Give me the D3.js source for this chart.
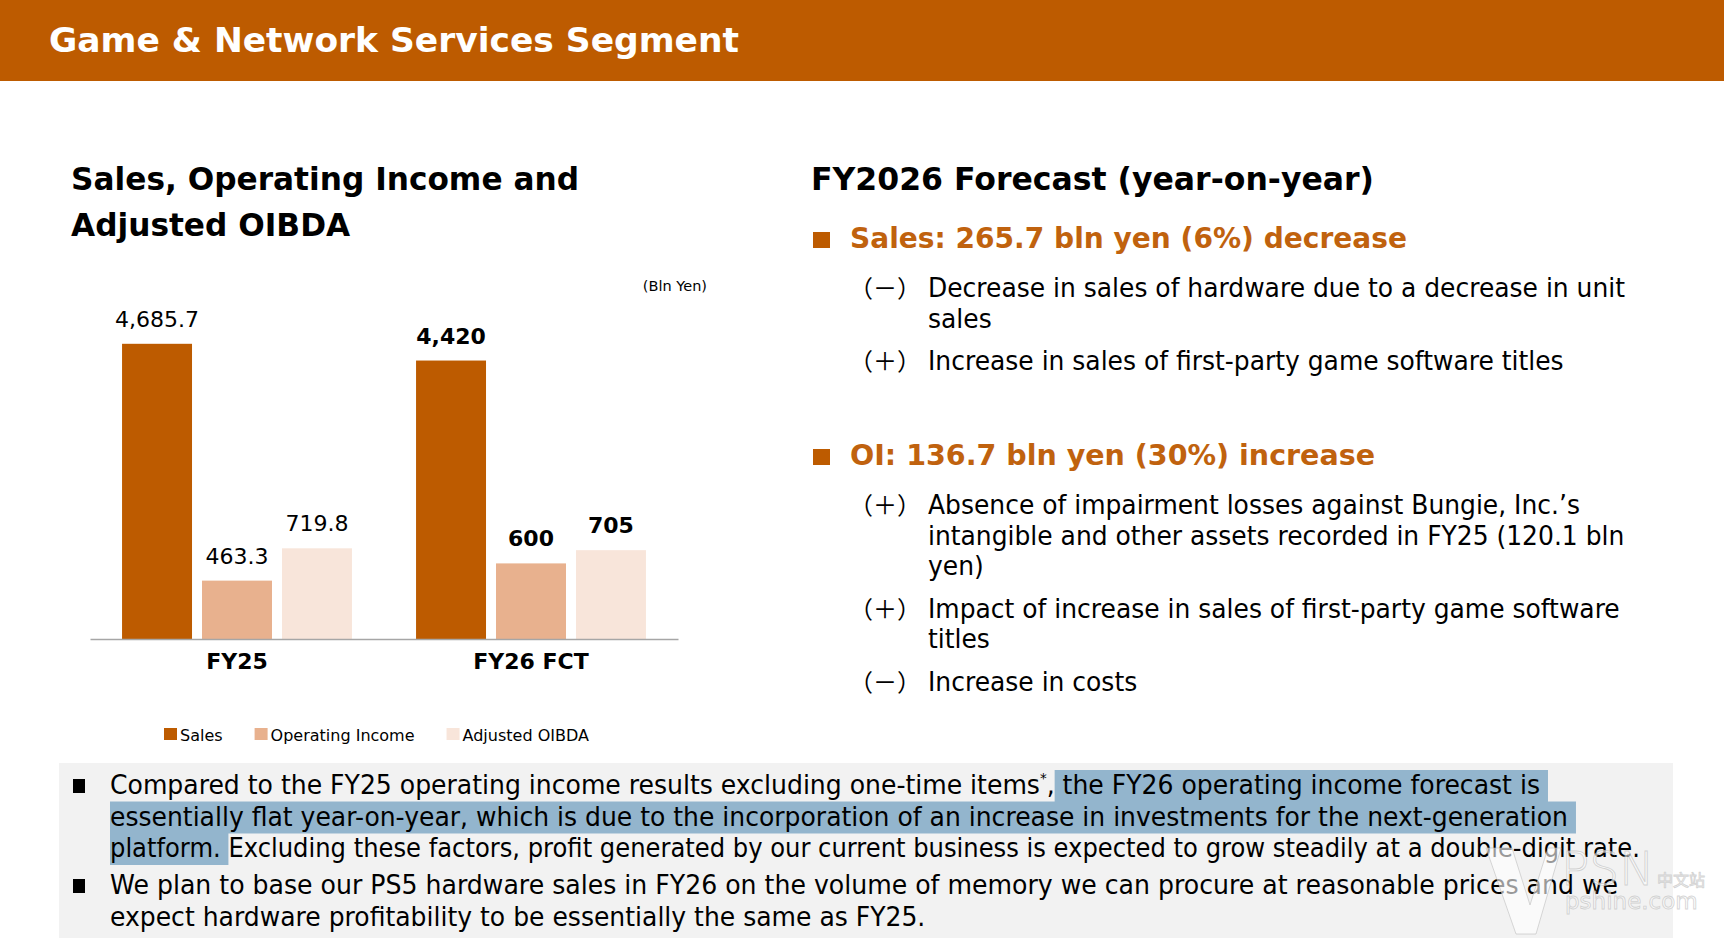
<!DOCTYPE html>
<html>
<head>
<meta charset="utf-8">
<script src="https://cdn.jsdelivr.net/npm/d3@7"></script>
<style>
body { margin: 0; background: #fff; }
svg { display: block; font-family: "DejaVu Sans", Verdana, sans-serif; }
text { white-space: pre; }
</style>
</head>
<body>
<svg id="slide" width="1724" height="942"></svg>
<script>
// chart data
var categories = ["FY25", "FY26 FCT"];
var seriesNames = ["Sales", "Operating Income", "Adjusted OIBDA"];
var sales = [4685.7, 4420];
var operatingIncome = [463.3, 600];
var adjustedOibda = [719.8, 705];
var salesLabels = ["4,685.7", "4,420"];
var oiLabels = ["463.3", "600"];
var oibdaLabels = ["719.8", "705"];
var boldLabels = [false, true];
var seriesColors = ["#BD5B00", "#E8B18E", "#F8E5DA"];

// slide texts
var slideTitle = "Game & Network Services Segment";
var chartTitle = ["Sales, Operating Income and", "Adjusted OIBDA"];
var unitLabel = "(Bln Yen)";
var forecastTitle = "FY2026 Forecast (year-on-year)";
var forecastHeads = ["Sales: 265.7 bln yen (6%) decrease", "OI: 136.7 bln yen (30%) increase"];
var salesFactors = [
    {sign: "（－）", lines: ["Decrease in sales of hardware due to a decrease in unit", "sales"]},
    {sign: "（＋）", lines: ["Increase in sales of first-party game software titles"]}
];
var oiFactors = [
    {sign: "（＋）", lines: ["Absence of impairment losses against Bungie, Inc.’s", "intangible and other assets recorded in FY25 (120.1 bln", "yen)"]},
    {sign: "（＋）", lines: ["Impact of increase in sales of first-party game software", "titles"]},
    {sign: "（－）", lines: ["Increase in costs"]}
];
var noteLines = [
    [{t: "Compared to the FY25 operating income results excluding one-time items"}, {t: "*", sup: true}, {t: ","}, {t: " the FY26 operating income forecast is ", hl: true}],
    [{t: "essentially flat year-on-year, which is due to the incorporation of an increase in investments for the next-generation ", hl: true}],
    [{t: "platform. ", hl: true}, {t: "Excluding these factors, profit generated by our current business is expected to grow steadily at a double-digit rate."}],
    [{t: "We plan to base our PS5 hardware sales in FY26 on the volume of memory we can procure at reasonable prices and we"}],
    [{t: "expect hardware profitability to be essentially the same as FY25."}]
];
var noteBulletStarts = [0, 3];

var orange = "#BD5B00";
var headOrange = "#C0620E";
var svg = d3.select("#slide");

// width of a string as the browser lays it out
function natural(str, size, weight, family) {
    var t = svg.append("text").attr("font-size", size).attr("font-weight", weight || "normal")
        .attr("xml:space", "preserve").text(str);
    if (family) t.attr("font-family", family);
    var w = t.node().getComputedTextLength();
    t.remove();
    return w;
}

function addText(g, x, y, str, o) {
    var t = g.append("text")
        .attr("x", x).attr("y", y)
        .attr("font-size", o.size)
        .attr("font-weight", o.weight || "normal")
        .attr("fill", o.fill || "#000")
        .attr("text-anchor", o.anchor || "start")
        .attr("xml:space", "preserve")
        .text(str);
    if (o.family) t.attr("font-family", o.family);
    var w = t.node().getComputedTextLength();
    if (o.width) w = o.width;
    else if (o.k) w = w * o.k;
    if (o.width || o.k) t.attr("textLength", w).attr("lengthAdjust", "spacingAndGlyphs");
    return w;
}

// header band
svg.append("rect").attr("x", 0).attr("y", 0).attr("width", 1724).attr("height", 81).attr("fill", orange);
addText(svg, 49, 52, slideTitle, {size: 34, weight: "bold", fill: "#fff", width: 690});

// left title
var kTitle = 508 / natural(chartTitle[0], 32, "bold");
chartTitle.forEach(function(s, i) {
    addText(svg, 71, 190 + i * 46, s, {size: 32, weight: "bold", k: kTitle});
});
addText(svg, 707, 291, unitLabel, {size: 14.5, anchor: "end"});

// bar chart
var baseY = 639, topY = 324;
var x0 = d3.scaleBand().domain(categories).range([90, 678]).paddingInner(0.218).paddingOuter(0.109);
var x1 = d3.scaleBand().domain(seriesNames).range([0, x0.bandwidth()]).paddingInner(0.125);
var ySales = d3.scaleLinear().domain([0, 5000]).range([baseY, topY]);
var yProfit = d3.scaleLinear().domain([0, 2500]).range([baseY, topY]);

var rows = categories.map(function(c, i) {
    return [
        {cat: c, name: seriesNames[0], v: sales[i], label: salesLabels[i], y: ySales, bold: boldLabels[i]},
        {cat: c, name: seriesNames[1], v: operatingIncome[i], label: oiLabels[i], y: yProfit, bold: boldLabels[i]},
        {cat: c, name: seriesNames[2], v: adjustedOibda[i], label: oibdaLabels[i], y: yProfit, bold: boldLabels[i]}
    ];
});
var color = d3.scaleOrdinal().domain(seriesNames).range(seriesColors);

var chart = svg.append("g");
var groups = chart.selectAll("g.grp").data(rows).join("g").attr("class", "grp")
    .attr("transform", function(d, i) { return "translate(" + x0(categories[i]) + ",0)"; });
groups.selectAll("rect").data(function(d) { return d; }).join("rect")
    .attr("x", function(d) { return x1(d.name); })
    .attr("y", function(d) { return d.y(d.v); })
    .attr("width", x1.bandwidth())
    .attr("height", function(d) { return baseY - d.y(d.v); })
    .attr("fill", function(d) { return color(d.name); });
groups.selectAll("text").data(function(d) { return d; }).join("text")
    .attr("x", function(d) { return x1(d.name) + x1.bandwidth() / 2; })
    .attr("y", function(d) { return d.y(d.v) - 17; })
    .attr("text-anchor", "middle")
    .attr("font-size", 22)
    .attr("font-weight", function(d) { return d.bold ? "bold" : "normal"; })
    .attr("fill", "#000")
    .text(function(d) { return d.label; });

var axis = chart.append("g").attr("transform", "translate(0," + baseY + ")")
    .call(d3.axisBottom(x0).tickSize(0).tickSizeOuter(0).tickPadding(14));
axis.select(".domain").attr("stroke", "#A6A6A6").attr("stroke-width", 1.5);
axis.selectAll(".tick text").attr("font-size", 22).attr("font-weight", "bold")
    .attr("font-family", "DejaVu Sans, Verdana, sans-serif").attr("fill", "#000");

// legend
var legend = svg.append("g");
var lx = 164;
seriesNames.forEach(function(s) {
    legend.append("rect").attr("x", lx).attr("y", 728).attr("width", 13).attr("height", 12).attr("fill", color(s));
    var w = addText(legend, lx + 16, 741, s, {size: 16});
    lx += 16 + w + 32;
});

// forecast column
addText(svg, 811, 190, forecastTitle, {size: 32, weight: "bold", width: 563});
var kBody = 697 / natural(salesFactors[0].lines[0], 26);
function factorBlock(headY, head, headW, factors) {
    svg.append("rect").attr("x", 813).attr("y", headY - 16).attr("width", 17).attr("height", 16).attr("fill", orange);
    addText(svg, 850, headY, head, {size: 28, weight: "bold", fill: headOrange, width: headW});
    var y = headY + 49;
    factors.forEach(function(f, i) {
        if (i > 0) y += 42.5;
        addText(svg, 849, y, f.sign, {size: 24, family: "Noto Sans CJK JP"});
        f.lines.forEach(function(l, j) {
            if (j > 0) y += 30.5;
            addText(svg, 928, y, l, {size: 26, k: kBody});
        });
    });
}
factorBlock(248, forecastHeads[0], 557, salesFactors);
factorBlock(465, forecastHeads[1], 525, oiFactors);

// notes box
svg.append("rect").attr("x", 59).attr("y", 763).attr("width", 1614).attr("height", 175).attr("fill", "#F2F2F2");
var hlLayer = svg.append("g");
var noteLayer = svg.append("g");
var noteX = 110;
var noteEnds = [1540, 1568, 1640, 1618, null];
var noteY = [794, 825.5, 857, 894, 925.5];
function segSize(s) { return s.sup ? 14 : 26; }
function lineWidth(segs) {
    return d3.sum(segs, function(s, j) {
        var str = j === segs.length - 1 ? s.t.replace(/\s+$/, "") : s.t;
        return natural(str, segSize(s));
    });
}
var kNote = (noteEnds[1] - noteX) / lineWidth(noteLines[1]);
noteLines.forEach(function(segs, i) {
    var ny = noteY[i];
    var k = noteEnds[i] ? (noteEnds[i] - noteX) / lineWidth(segs) : kNote;
    if (noteBulletStarts.indexOf(i) >= 0) {
        noteLayer.append("rect").attr("x", 73).attr("y", ny - 15).attr("width", 12).attr("height", 14).attr("fill", "#000");
    }
    var cx = noteX;
    segs.forEach(function(s) {
        var w = addText(noteLayer, cx, s.sup ? ny - 11 : ny, s.t, {size: segSize(s), k: k});
        if (s.hl) {
            hlLayer.append("rect").attr("x", cx).attr("y", ny - 24).attr("width", w).attr("height", 32).attr("fill", "#93B5CD");
        }
        cx += w;
    });
});

// faint watermark
var wm = svg.append("g").attr("fill", "#fff").attr("fill-opacity", 0.6).attr("stroke", "#b8b8b8").attr("stroke-opacity", 0.6).attr("stroke-width", 0.9);
wm.append("path").attr("d", "M1486,848 L1512,848 L1530,905 L1548,848 L1561,848 L1536,934 L1516,934 Z");
wm.append("text").attr("x", 1561).attr("y", 885).attr("font-size", 47).attr("font-weight", 200).text("PSN");
wm.append("text").attr("x", 1657).attr("y", 886).attr("font-size", 16).attr("font-family", "Noto Sans CJK SC").text("中文站");
wm.append("text").attr("x", 1565).attr("y", 909).attr("font-size", 23).text("pshine.com");
</script>
</body>
</html>
